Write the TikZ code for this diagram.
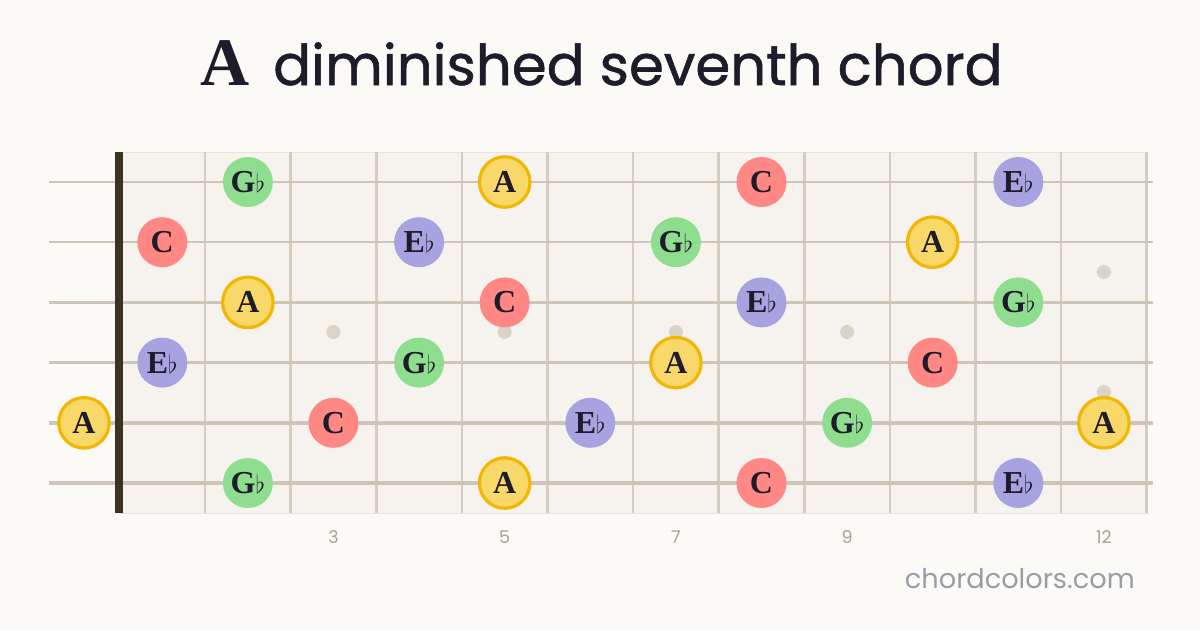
\documentclass[tikz,border=0pt]{standalone}
\usepackage{fontspec}
\setmainfont{Liberation Serif}
\newfontfamily\sansf{Poppins}
\newfontfamily\sanst{Poppins}[FakeBold=1]
\definecolor{bg}{HTML}{FBFAF6}
\definecolor{board}{HTML}{F6F3EF}
\definecolor{boardedge}{HTML}{E8E3DA}
\definecolor{fretc}{HTML}{D5CDC0}
\definecolor{stringc}{HTML}{CDC5B8}
\definecolor{nutc}{HTML}{3B3421}
\definecolor{inlay}{HTML}{DAD4C8}
\definecolor{ink}{HTML}{1E1C2B}
\definecolor{yelf}{HTML}{F9D86A}
\definecolor{yelb}{HTML}{F2B705}
\definecolor{redf}{HTML}{FF8784}
\definecolor{purf}{HTML}{A7A3E0}
\definecolor{grnf}{HTML}{8FDE8F}
\definecolor{numc}{HTML}{A8A190}
\definecolor{sitec}{HTML}{9C9CA8}
\tikzset{
  notebase/.style={circle, inner sep=0pt, minimum size=50pt, text=ink,
    font=\fontsize{32}{32}\selectfont\bfseries},
  noteA/.style={notebase, fill=yelf, draw=yelb, line width=3.2pt, minimum size=50.5pt},
  noteC/.style={notebase, fill=redf},
  noteE/.style={notebase, fill=purf},
  noteG/.style={notebase, fill=grnf},
  fretline/.style={draw=fretc, line width=2.6pt},
  inlaydot/.style={circle, fill=inlay, inner sep=0pt, minimum size=14pt},
  fretnum/.style={text=numc, font=\sansf\fontsize{17.5}{17.5}\selectfont, inner sep=0pt},
}
\begin{document}
\begin{tikzpicture}[x=1pt,y=-1pt]
\useasboundingbox[fill=bg] (0,0) rectangle (1200,630);
% title
\node[anchor=base west, inner sep=0pt, text=ink, font=\fontsize{68}{68}\selectfont\bfseries] (titleA) at (200,85) {A};
\node[anchor=base west, inner sep=0pt, text=ink, font=\sanst\fontsize{56.2}{56.2}\selectfont] (titleT) at (273,85) {diminished seventh chord};
% board
\fill[board, draw=boardedge, line width=1pt] (119,152) rectangle (1147,513);
\foreach \f in {1,...,12}{
  \draw[fretline] ({119.5+85.6*\f},152) -- ({119.5+85.6*\f},513);
}
\foreach \s/\w in {1/2.0,2/2.2,3/2.6,4/3.0,5/3.4,6/4.0}{
  \draw[stringc, line width=\w pt] (49,{182+60.2*(\s-1)}) -- (1153,{182+60.2*(\s-1)});
}
\fill[nutc] (115,152) rectangle (123,513);
% inlays
\foreach \x/\y/\n in {333.5/332/i3,504.7/332/i5,675.9/332/i7,847.1/332/i9,1103.9/272/i12a,1103.9/392/i12b}{
  \node[inlaydot] (\n) at (\x,\y) {};
}
% notes: string / fret / style / label
\foreach \s/\f/\t/\l [count=\k] in {
  1/2/G/G$\flat$, 1/5/A/A, 1/8/C/C, 1/11/E/E$\flat$,
  2/1/C/C, 2/4/E/E$\flat$, 2/7/G/G$\flat$, 2/10/A/A,
  3/2/A/A, 3/5/C/C, 3/8/E/E$\flat$, 3/11/G/G$\flat$,
  4/1/E/E$\flat$, 4/4/G/G$\flat$, 4/7/A/A, 4/10/C/C,
  5/0/A/A, 5/3/C/C, 5/6/E/E$\flat$, 5/9/G/G$\flat$, 5/12/A/A,
  6/2/G/G$\flat$, 6/5/A/A, 6/8/C/C, 6/11/E/E$\flat$}{
  \pgfmathsetmacro{\nx}{\f==0 ? 84 : 119.5+85.6*(\f-0.5)}
  \node[note\t] (n\k) at (\nx,{182+60.2*(\s-1)}) {\l};
}
% fret numbers
\foreach \x/\n in {333.5/3,504.7/5,675.9/7,847.1/9,1103.9/12}{
  \node[fretnum] (fn\n) at (\x,537.5) {\n};
}
\node[anchor=base east, inner sep=0pt, text=sitec, font=\sansf\fontsize{27.2}{27.2}\selectfont] (site) at (1135,588) {chordcolors.com};
\end{tikzpicture}
\end{document}
